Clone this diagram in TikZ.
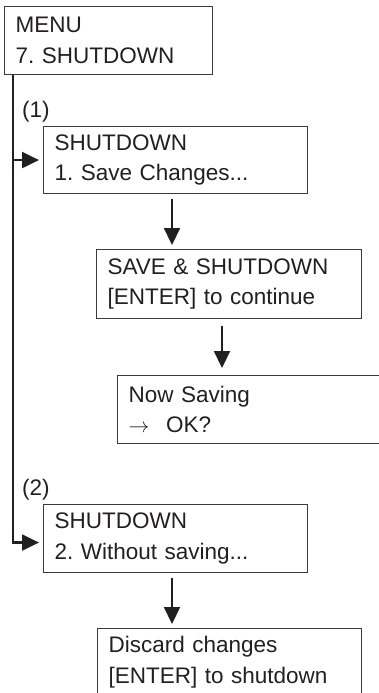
\documentclass[tikz,border=0pt]{standalone}
\usepackage{fontspec}
\setmainfont{Liberation Sans}
\usetikzlibrary{arrows.meta,calc}
\definecolor{txt}{HTML}{231F20}
\definecolor{boxline}{HTML}{3A3A3A}
\frenchspacing
\begin{document}
\begin{tikzpicture}[x=1pt,y=1pt,
  box/.style={draw=boxline, line width=1.1pt, anchor=north west, inner xsep=11pt, inner ysep=0pt, align=left, font=\fontsize{22.5}{30.5}\selectfont, text=txt},
  conn/.style={draw=txt, line width=2.2pt},
  arr/.style={conn, -{Triangle[length=17pt,width=16pt]}, shorten >=4pt, shorten <=5pt},
  lbl/.style={anchor=base west, inner sep=0pt, font=\fontsize{22.5}{27}\selectfont, text=txt}]
\useasboundingbox (0,0) rectangle (378,-693);
\node[box, minimum height=68pt, text width=186pt] (menu) at (4,-6) {MENU\\7. SHUTDOWN};
\node[box, minimum height=67pt, text width=242pt] (b2) at (43,-126) {SHUTDOWN\\1. Save Changes...};
\node[box, minimum height=69pt, text width=243pt] (b3) at (96,-249) {SAVE \& SHUTDOWN\\{[ENTER]} to continue};
\node[box, minimum height=68pt, text width=278pt] (b4) at (117,-375) {Now Saving\\$\rightarrow$\hspace{0.75em}OK?};
\node[box, minimum height=68pt, text width=242pt] (b5) at (43,-504) {SHUTDOWN\\2. Without saving...};
\node[box, minimum height=67pt, text width=242pt] (b6) at (97,-628) {Discard changes\\{[ENTER]} to shutdown};
\node[lbl] (l1) at (22,-117) {(1)};
\node[lbl] (l2) at (22,-495) {(2)};
\coordinate (t) at ($(menu.south west)+(9,0)$);
\coordinate (xa) at (172,0);
\coordinate (xb) at (222,0);
\coordinate (e5) at ($(b5.west)+(0,-4)$);
\draw[arr, shorten <=0pt] (t) |- (e5);
\draw[arr, shorten <=0pt] (t |- b2.west) -- (b2.west);
\draw[arr] (b2.south -| xa) -- (b3.north -| xa);
\draw[arr, shorten >=7pt, shorten <=7pt] (b3.south -| xb) -- (b4.north -| xb);
\draw[arr] (b5.south -| xa) -- (b6.north -| xa);
\end{tikzpicture}
\end{document}
